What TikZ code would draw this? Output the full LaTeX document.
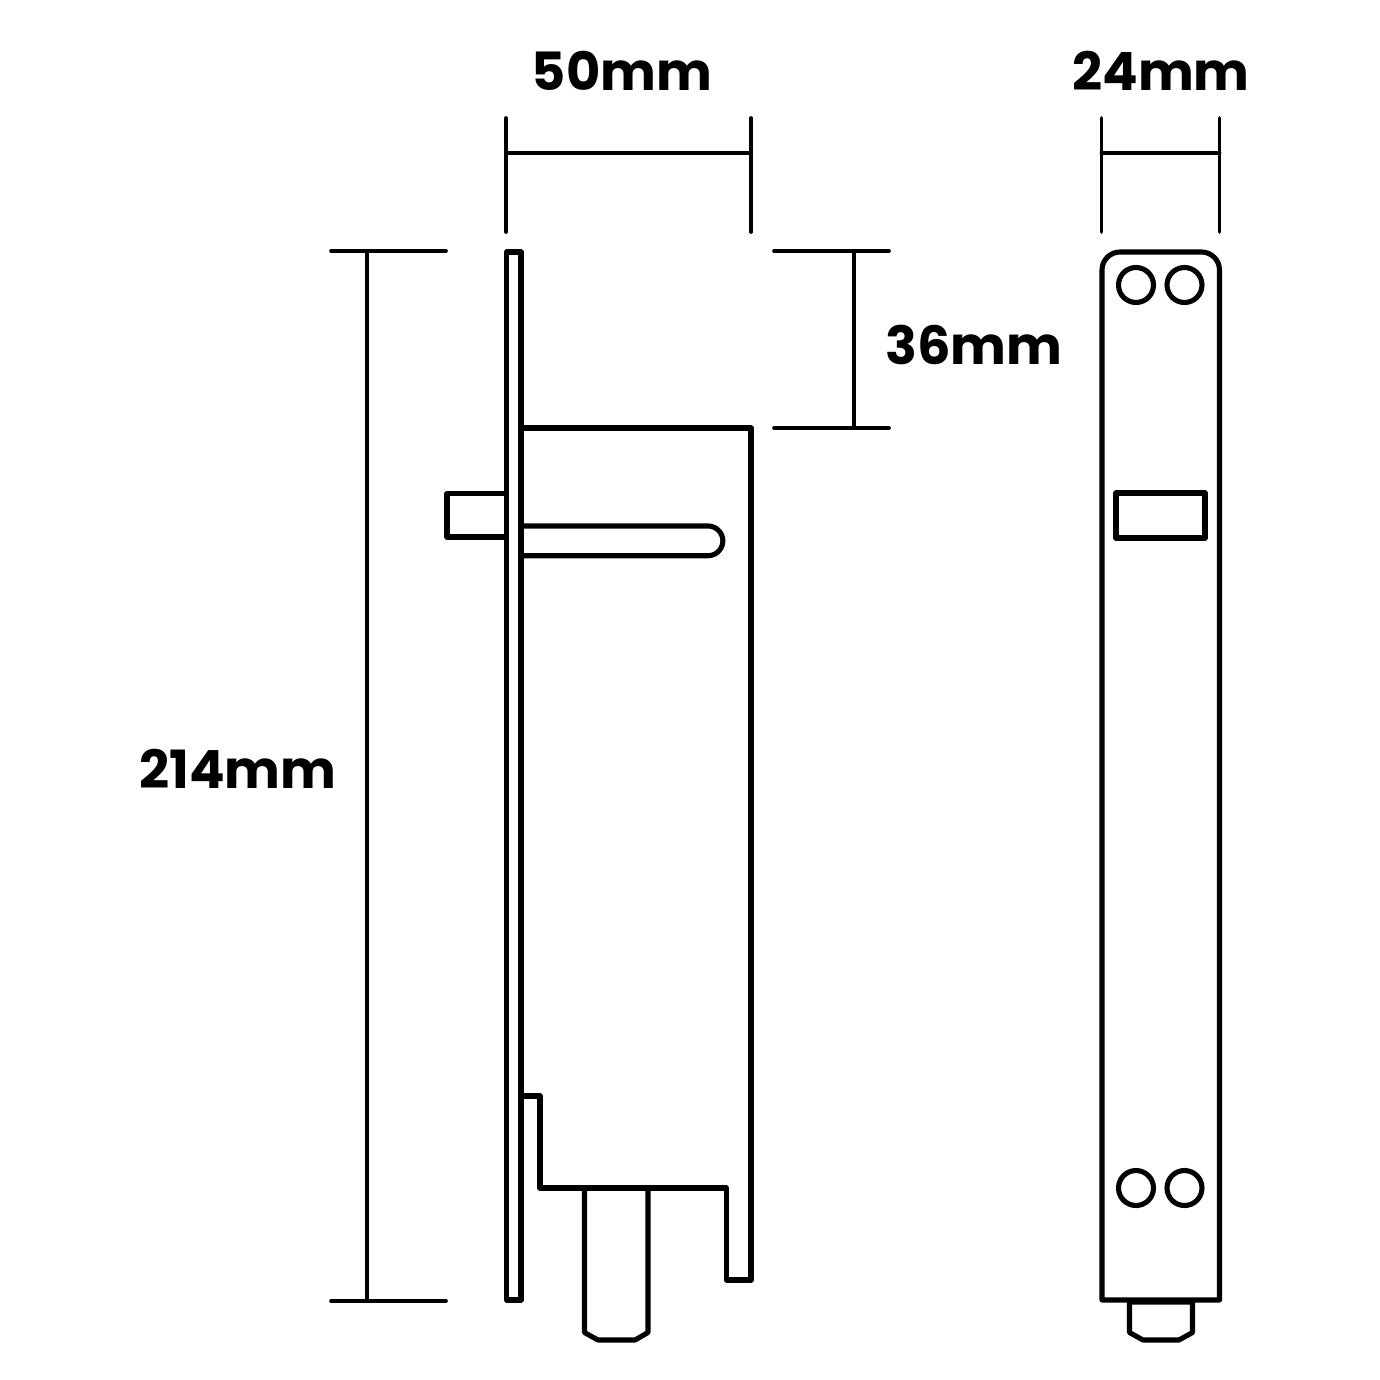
\documentclass[tikz,border=0pt]{standalone}
\usepackage{fontspec}
\setmainfont{Poppins}
\tikzset{
  part/.style={line width=2.9pt, line join=round, black},
  dimline/.style={line width=2.1pt, line cap=round, black},
  dimlabel/.style={font=\fontsize{30}{30}\selectfont\bfseries, inner sep=0pt}
}

\begin{document}
\begin{tikzpicture}[x=0.02cm,y=-0.02cm]
    \useasboundingbox (0,0) rectangle (1380,1380);

    % side view
    \draw[part] (506.5,252) rectangle (521,1300);
    \draw[part] (521,428) -- (751,428) -- (751,1280) -- (726.5,1280) -- (726.5,1188) -- (540,1188) -- (540,1096) -- (521,1096);
    \draw[part] (584.5,1188) -- (584.5,1332.5) -- (598,1340) -- (635,1340) -- (648,1332.5) -- (648,1188);
    \draw[part] (506.5,493.5) -- (447,493.5) -- (447,537) -- (506.5,537);
    \draw[part] (521,526) -- (708,526) arc (-90:90:14.85) -- (521,555.7);

    % front view
    \draw[part] (1102,1300) -- (1102,270) arc (180:270:18) -- (1201.5,252) arc (-90:0:18) -- (1219.5,1300) -- cycle;
    \draw[part] (1116,493) rectangle (1205,538);
    \draw[part] (1136,285) circle (17.5);
    \draw[part] (1184.5,285) circle (17.5);
    \draw[part] (1136,1188) circle (17.5);
    \draw[part] (1184.5,1188) circle (17.5);
    \draw[part] (1129.5,1302) -- (1129.5,1332.5) -- (1143,1340) -- (1179,1340) -- (1192.5,1332.5) -- (1192.5,1302) -- cycle;

    % dimensions
    \coordinate (WL) at (506,153);
    \coordinate (WR) at (751,153);
    \coordinate (DL) at (1101.5,153);
    \coordinate (DR) at (1219.5,153);
    \coordinate (HT) at (367,251);
    \coordinate (HB) at (367,1301);
    \coordinate (OT) at (854,251);
    \coordinate (OB) at (854,428);

    \draw[dimline] (506,118) -- (506,232);
    \draw[dimline] (751,118) -- (751,232);
    \draw[dimline] (WL) -- (WR);
    \draw[dimline] (1101.5,118) -- (1101.5,232);
    \draw[dimline] (1219.5,118) -- (1219.5,232);
    \draw[dimline] (DL) -- (DR);
    \draw[dimline] (331,251) -- (446,251);
    \draw[dimline] (331,1301) -- (446,1301);
    \draw[dimline] (HT) -- (HB);
    \draw[dimline] (774,251) -- (889,251);
    \draw[dimline] (774,428) -- (889,428);
    \draw[dimline] (OT) -- (OB);

    \node[dimlabel] (width) at (622,71) {50mm};
    \node[dimlabel] (depth) at (1161,71) {24mm};
    \node[dimlabel] (offset) at (974,345) {36mm};
    \node[dimlabel] (height) at (238,769) {214mm};
\end{tikzpicture}
\end{document}
